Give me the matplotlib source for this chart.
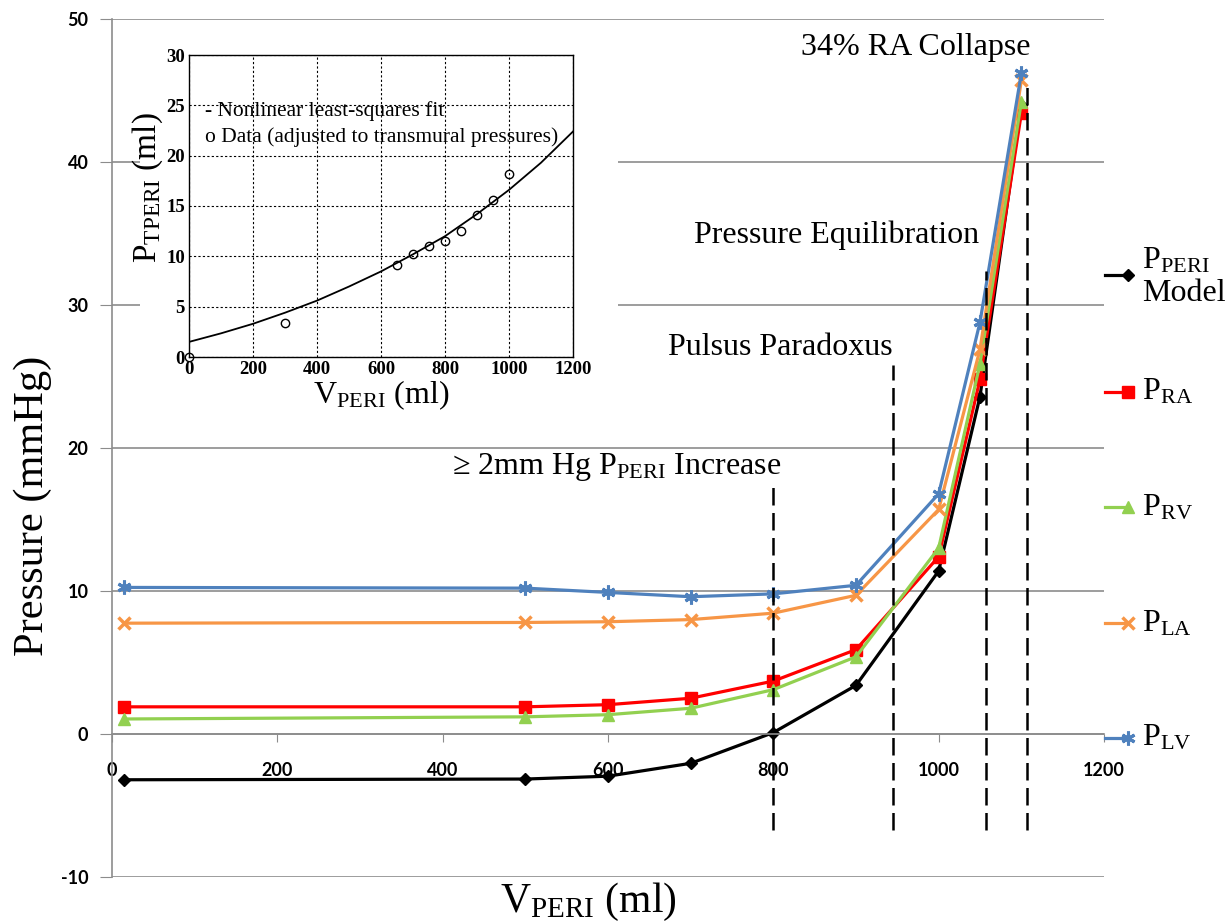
import numpy as np
import matplotlib
matplotlib.use("Agg")
import matplotlib.pyplot as plt
from matplotlib.patches import Rectangle
from matplotlib.lines import Line2D

plt.rcParams['font.family'] = 'Lato'
plt.rcParams['axes.unicode_minus'] = False
plt.rcParams['mathtext.fontset'] = 'custom'
plt.rcParams['mathtext.rm'] = 'Liberation Serif'
plt.rcParams['mathtext.it'] = 'Liberation Serif:italic'
plt.rcParams['mathtext.bf'] = 'Liberation Serif:bold'

SERIF = 'Liberation Serif'

# main chart data
v_peri = [15, 500, 600, 700, 800, 900, 1000, 1050, 1100]
p_peri = [-3.2, -3.15, -2.95, -2.05, 0.1, 3.4, 11.4, 23.6, 44.0]
p_ra = [1.9, 1.9, 2.05, 2.5, 3.7, 5.9, 12.4, 24.8, 43.4]
p_rv = [1.05, 1.2, 1.35, 1.8, 3.1, 5.4, 13.0, 25.9, 44.2]
p_la = [7.75, 7.8, 7.85, 8.0, 8.45, 9.7, 15.7, 26.9, 45.7]
p_lv = [10.25, 10.2, 9.9, 9.6, 9.8, 10.4, 16.8, 28.8, 46.2]

series_labels = [r'$\mathrm{P}_{\mathrm{PERI}}$' + '\nModel', r'$\mathrm{P}_{\mathrm{RA}}$',
                 r'$\mathrm{P}_{\mathrm{RV}}$', r'$\mathrm{P}_{\mathrm{LA}}$', r'$\mathrm{P}_{\mathrm{LV}}$']

# threshold markers (dashed lines) and their labels
event_x = [800, 945, 1057, 1107]
event_top = [17.6, 25.8, 32.4, 45.3]
event_bottom = -6.7
event_labels = ['\u2265 2mm Hg $\\mathrm{P}_{\\mathrm{PERI}}$ Increase', 'Pulsus Paradoxus',
                'Pressure Equilibration', '34% RA Collapse']
event_label_x = [610, 809, 876, 972]
event_label_y = [18.7, 27.0, 34.9, 48.0]

# inset data
inset_v = [0, 300, 650, 700, 750, 800, 850, 900, 950, 1000]
inset_p = [0, 3.4, 9.1, 10.2, 11.0, 11.5, 12.5, 14.1, 15.6, 18.2]
fit_v = [0, 100, 200, 300, 400, 500, 600, 700, 800, 900, 1000, 1100, 1200]
fit_p = [1.5, 2.35, 3.3, 4.4, 5.6, 7.0, 8.5, 10.2, 12.0, 14.2, 16.6, 19.3, 22.4]

W, H = 1227, 923
fig = plt.figure(figsize=(W / 100, H / 100), dpi=100)
ax = fig.add_axes([112 / W, 1 - 877 / H, 992 / W, 858 / H])

grid_c = '#8c8c8c'
ax.set_xlim(0, 1200)
ax.set_ylim(-10, 50)
ax.set_yticks(np.arange(-10, 51, 10))
ax.set_xticks(np.arange(0, 1201, 200))
ax.yaxis.grid(True, color=grid_c, lw=1.2)
ax.set_axisbelow(True)
for s in ['top', 'right']:
    ax.spines[s].set_visible(False)
ax.spines['left'].set_color(grid_c)
ax.spines['left'].set_linewidth(1.2)
ax.spines['bottom'].set_position(('data', 0))
ax.spines['bottom'].set_color(grid_c)
ax.spines['bottom'].set_linewidth(1.2)
ax.tick_params(axis='y', length=9, color=grid_c, labelsize=13, pad=8)
ax.tick_params(axis='x', length=6, color=grid_c, labelsize=13, pad=14)
for t in ax.get_xticklabels() + ax.get_yticklabels():
    t.set_fontweight('bold')

styles = [
    dict(color='#000000', marker='D', ms=6),
    dict(color='#ff0000', marker='s', ms=8),
    dict(color='#92d050', marker='^', ms=8),
    dict(color='#f79646', marker='x', ms=8, mew=2.5),
    dict(color='#4f81bd', marker=(6, 2, 0), ms=10, mew=2.2),
]
for ys, st in zip([p_peri, p_ra, p_rv, p_la, p_lv], styles):
    ax.plot(v_peri, ys, lw=2.3, clip_on=False, **st)

for x, top in zip(event_x, event_top):
    ax.plot([x, x], [event_bottom, top], color='black', lw=1.8, ls=(0, (7, 3)))
for lab, x, y in zip(event_labels, event_label_x, event_label_y):
    ax.text(x, y, lab, ha='center', va='center', fontsize=23, family=SERIF)

ax.set_ylabel('Pressure (mmHg)', fontsize=30.5, family=SERIF)
ax.yaxis.set_label_coords(-0.0605, 0.432)
fig.text(588 / W, 1 - 912 / H, r'$\mathrm{V}_{\mathrm{PERI}}$ (ml)', fontsize=30,
         family=SERIF, ha='center', va='baseline')

# manual legend on the right
leg_y = [275, 392, 507, 623, 738]
for lab, yy, st in zip(series_labels, leg_y, styles):
    fy = 1 - yy / H
    fig.add_artist(Line2D([1105 / W, 1128 / W], [fy, fy], lw=2.3, markevery=[1], **st))
    if '\n' in lab:
        fig.text(1142 / W, 1 - 246 / H, lab, fontsize=23, family=SERIF, va='top',
                 linespacing=1.15)
    else:
        fig.text(1142 / W, 1 - (yy + 8) / H, lab, fontsize=23, family=SERIF, va='baseline')

# white panel behind the inset
fig.add_artist(Rectangle((140 / W, 1 - 418 / H), 478 / W, 393 / H, transform=fig.transFigure,
                         facecolor='white', edgecolor='none', zorder=0.5))

ins = fig.add_axes([189 / W, 1 - 357 / H, 384 / W, 302 / H], zorder=1)
ins.set_xlim(0, 1200)
ins.set_ylim(0, 30)
ins.set_xticks(np.arange(0, 1201, 200))
ins.set_yticks(np.arange(0, 31, 5))
ins.grid(True, color='black', ls=(0, (2, 2)), lw=0.8)
ins.tick_params(length=0, pad=3)
for t in ins.get_xticklabels() + ins.get_yticklabels():
    t.set_fontfamily(SERIF)
    t.set_fontweight('bold')
    t.set_fontsize(13.5)
for s in ins.spines.values():
    s.set_linewidth(1.0)
ins.plot(fit_v, fit_p, color='black', lw=1.3)
ins.plot(inset_v, inset_p, ls='none', marker='o', ms=6, mfc='none', mec='black', mew=1.0,
         clip_on=False)
ins.text(50, 24.4, '- Nonlinear least-squares fit', fontsize=15.5, family=SERIF, va='center')
ins.text(50, 21.8, 'o Data (adjusted to transmural pressures)', fontsize=15.5, family=SERIF,
         va='center')
ins.set_xlabel(r'$\mathrm{V}_{\mathrm{PERI}}$ (ml)', fontsize=23, family=SERIF, labelpad=0)
ins.set_ylabel(r'$\mathrm{P}_{\mathrm{TPERI}}$ (ml)', fontsize=24, family=SERIF, labelpad=2)
ins.yaxis.set_label_coords(-0.0625, 0.56)

fig.savefig('out.png', dpi=100)
